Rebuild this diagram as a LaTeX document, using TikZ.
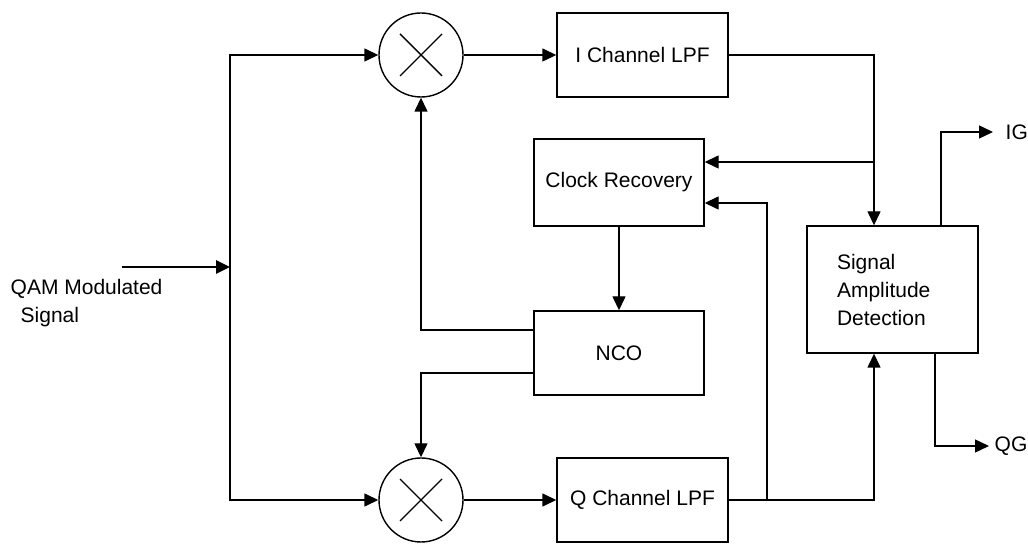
\documentclass[tikz,border=0pt]{standalone}
\usepackage{fontspec}
\setmainfont{Liberation Sans}
\usetikzlibrary{arrows.meta,positioning,calc}

\begin{document}
\begin{tikzpicture}[x=0.5pt, y=-0.5pt, line width=0.7pt,
    font=\fontsize{10.5}{14}\selectfont,
    blk/.style={draw, minimum width=85.5pt, minimum height=42pt, inner sep=0pt},
    mix/.style={draw, circle, minimum size=42pt, inner sep=0pt},
    arr/.style={-{Triangle[length=7pt,width=6.5pt]}}]
  \useasboundingbox (0,0) rectangle (1028,544);
  % mixers
  \node[mix](mixi) at (421,55){};
  \node[mix](mixq) at (421,500){};
  \foreach \m in {mixi,mixq}
    \draw (\m.center) +(-21,-21) -- +(21,21) +(-21,21) -- +(21,-21);
  % blocks
  \node[blk](ilpf) at (642.5,55){I Channel LPF};
  \node[blk](qlpf) at (642.5,500){Q Channel LPF};
  \node[blk, minimum width=85pt, minimum height=43.5pt](clk) at (619,182.5){Clock Recovery};
  \node[blk, minimum width=85pt](nco) at (619,353){NCO};
  \node[blk, minimum height=63.5pt, align=left, text width=55.5pt,
        inner xsep=14.5pt](sad) at (892.5,289.5){Signal\\Amplitude\\Detection};
  \node[align=left, anchor=west, inner sep=0pt](qamlbl) at (10,303)
    {QAM Modulated\\\hspace{5pt}Signal};
  \node[anchor=west, inner sep=0pt](ig) at (1005,132){IG};
  \node[anchor=west, inner sep=0pt](qg) at (994,446){QG};
  % taps
  \coordinate (in) at (122,267);
  \coordinate (split) at (230,267);
  \coordinate (itap) at (874,162);
  \coordinate (qtap) at (767,500);
  % connectors
  \draw[arr, line width=1.4pt] (in) -- (split);
  \draw[arr] (split) |- (mixi.west);
  \draw[arr] (split) |- (mixq.west);
  \draw[arr] (mixi) -- (ilpf);
  \draw[arr] (mixq) -- (qlpf);
  \draw[arr] (ilpf.east) -| (sad.north -| itap);
  \draw[arr] (itap) -- (clk.east |- itap);
  \draw[arr] (qlpf.east) -| (sad.south -| itap);
  \draw[arr] (qtap) |- ($(clk.east)+(0,20.5)$);
  \draw[arr] (clk) -- (nco);
  \draw[arr] ($(nco.west)+(0,-23)$) -| (mixi.south);
  \draw[arr] ($(nco.west)+(0,20)$) -| (mixq.north);
  \draw[arr] ($(sad.north)+(48.5,0)$) |- ([xshift=-6pt]ig.west);
  \draw[arr] ($(sad.south)+(42.5,0)$) |- ([xshift=-2.5pt]qg.west);
\end{tikzpicture}
\end{document}
